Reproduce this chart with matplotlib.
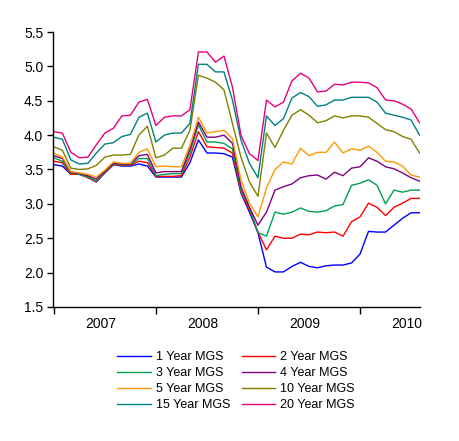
import matplotlib
matplotlib.use("Agg")
import matplotlib.pyplot as plt
from matplotlib.ticker import FixedLocator, NullFormatter, FixedFormatter

plt.rcParams['font.family'] = ['Liberation Sans', 'DejaVu Sans']

# monthly yields, Jan 2007 - Aug 2010
years = ['2007', '2008', '2009', '2010']

mgs_1y = [3.57, 3.55, 3.43, 3.43, 3.39, 3.32, 3.45, 3.57, 3.55, 3.55, 3.58, 3.55,
          3.39, 3.39, 3.39, 3.39, 3.60, 3.93, 3.74, 3.74, 3.73, 3.68, 3.16, 2.88,
          2.58, 2.08, 2.01, 2.01, 2.09, 2.15, 2.09, 2.07, 2.10, 2.11, 2.11, 2.14,
          2.27, 2.60, 2.59, 2.59, 2.69, 2.79, 2.87, 2.87]
mgs_2y = [3.62, 3.60, 3.43, 3.43, 3.38, 3.32, 3.46, 3.57, 3.56, 3.56, 3.62, 3.60,
          3.40, 3.40, 3.40, 3.41, 3.68, 4.05, 3.83, 3.82, 3.81, 3.74, 3.17, 2.91,
          2.59, 2.33, 2.53, 2.50, 2.50, 2.56, 2.55, 2.59, 2.58, 2.59, 2.53, 2.74,
          2.81, 3.01, 2.95, 2.83, 2.95, 3.01, 3.08, 3.08]
mgs_3y = [3.67, 3.62, 3.45, 3.43, 3.39, 3.33, 3.47, 3.58, 3.57, 3.57, 3.66, 3.66,
          3.41, 3.43, 3.44, 3.44, 3.75, 4.15, 3.90, 3.90, 3.88, 3.80, 3.20, 2.94,
          2.58, 2.53, 2.88, 2.85, 2.88, 2.94, 2.89, 2.88, 2.90, 2.97, 2.99, 3.27,
          3.30, 3.35, 3.27, 3.00, 3.20, 3.17, 3.20, 3.20]
mgs_4y = [3.70, 3.66, 3.46, 3.44, 3.41, 3.36, 3.48, 3.59, 3.58, 3.58, 3.70, 3.72,
          3.45, 3.47, 3.47, 3.47, 3.80, 4.19, 3.97, 3.97, 4.00, 3.88, 3.25, 2.95,
          2.69, 2.88, 3.20, 3.25, 3.29, 3.38, 3.41, 3.42, 3.36, 3.46, 3.41, 3.52,
          3.54, 3.67, 3.62, 3.54, 3.51, 3.45, 3.38, 3.33]
mgs_5y = [3.74, 3.68, 3.47, 3.45, 3.43, 3.39, 3.49, 3.61, 3.59, 3.59, 3.75, 3.80,
          3.54, 3.55, 3.54, 3.54, 3.85, 4.26, 4.03, 4.05, 4.07, 3.95, 3.35, 3.01,
          2.81, 3.23, 3.50, 3.61, 3.58, 3.81, 3.70, 3.75, 3.75, 3.90, 3.74, 3.80,
          3.78, 3.84, 3.75, 3.62, 3.61, 3.55, 3.42, 3.39]
mgs_10y = [3.83, 3.78, 3.52, 3.50, 3.51, 3.56, 3.68, 3.71, 3.71, 3.72, 4.00, 4.13,
           3.67, 3.71, 3.81, 3.81, 4.07, 4.87, 4.83, 4.77, 4.66, 4.17, 3.68, 3.32,
           3.11, 4.03, 3.82, 4.07, 4.29, 4.37, 4.29, 4.18, 4.21, 4.28, 4.25, 4.28,
           4.28, 4.26, 4.17, 4.08, 4.05, 3.98, 3.94, 3.74]
mgs_15y = [3.97, 3.94, 3.64, 3.58, 3.59, 3.74, 3.87, 3.89, 3.98, 4.01, 4.26, 4.32,
           3.90, 4.00, 4.03, 4.03, 4.17, 5.03, 5.03, 4.92, 4.92, 4.51, 3.93, 3.59,
           3.38, 4.28, 4.14, 4.24, 4.54, 4.62, 4.56, 4.42, 4.44, 4.51, 4.51, 4.55,
           4.55, 4.55, 4.48, 4.32, 4.29, 4.26, 4.22, 4.00]
mgs_20y = [4.05, 4.03, 3.75, 3.67, 3.68, 3.86, 4.03, 4.10, 4.28, 4.29, 4.48, 4.52,
           4.14, 4.26, 4.28, 4.28, 4.37, 5.21, 5.21, 5.06, 5.15, 4.70, 4.00, 3.73,
           3.63, 4.51, 4.41, 4.48, 4.79, 4.90, 4.83, 4.63, 4.64, 4.74, 4.73, 4.77,
           4.77, 4.76, 4.69, 4.51, 4.50, 4.45, 4.38, 4.18]

series = [
    ('1 Year MGS', mgs_1y, '#0000ff'),
    ('2 Year MGS', mgs_2y, '#ff0000'),
    ('3 Year MGS', mgs_3y, '#00a050'),
    ('4 Year MGS', mgs_4y, '#800080'),
    ('5 Year MGS', mgs_5y, '#ff9900'),
    ('10 Year MGS', mgs_10y, '#808000'),
    ('15 Year MGS', mgs_15y, '#008080'),
    ('20 Year MGS', mgs_20y, '#e6007a'),
]

fig = plt.figure(figsize=(4.6, 4.41), dpi=100)
ax = fig.add_axes([0.1152, 0.3039, 0.7978, 0.6235])

months = list(range(len(mgs_1y)))
lines = []
for name, vals, col in series:
    ln, = ax.plot(months, vals, color=col, lw=1.0, label=name)
    lines.append(ln)

ax.set_xlim(-0.1, 43.05)
ax.set_ylim(1.5, 5.5)
ax.set_yticks([1.5, 2.0, 2.5, 3.0, 3.5, 4.0, 4.5, 5.0, 5.5])
ax.yaxis.set_major_formatter(FixedFormatter(['1.5', '2.0', '2.5', '3.0', '3.5', '4.0', '4.5', '5.0', '5.5']))

# year boundaries as ticks, labels centred in each year
ax.xaxis.set_major_locator(FixedLocator([0, 12, 24, 36]))
ax.xaxis.set_major_formatter(NullFormatter())
ax.xaxis.set_minor_locator(FixedLocator([5.5, 17.5, 29.5, 41.5]))
ax.xaxis.set_minor_formatter(FixedFormatter(years))
ax.tick_params(axis='x', which='major', length=5, width=1, color='black')
ax.tick_params(axis='x', which='minor', length=0, pad=7, labelsize=10)
ax.tick_params(axis='y', length=4, width=1, pad=3, labelsize=10)

for s in ['top', 'right']:
    ax.spines[s].set_visible(False)
for s in ['left', 'bottom']:
    ax.spines[s].set_linewidth(1.0)

# legend is filled row by row in the original
order = [0, 2, 4, 6, 1, 3, 5, 7]
fig.legend([lines[i] for i in order], [series[i][0] for i in order],
           loc='center', bbox_to_anchor=(0.513, 0.136), ncol=2, frameon=False,
           fontsize=9, handlelength=2.7, handletextpad=0.4, columnspacing=0.9,
           labelspacing=0.32)

fig.savefig('out.png', dpi=100)
